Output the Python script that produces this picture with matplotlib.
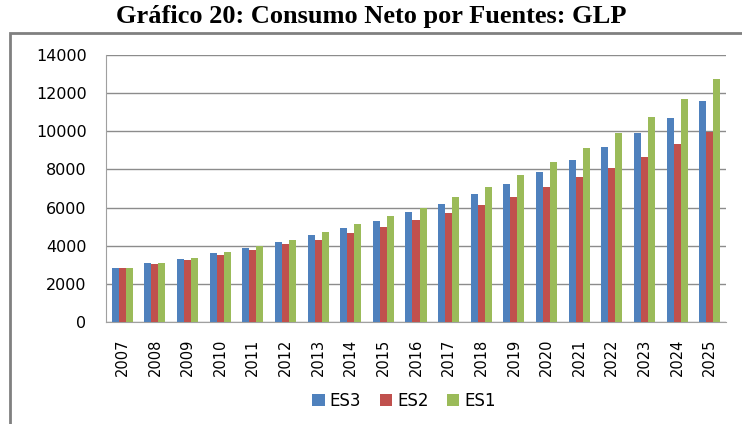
import numpy as np
import matplotlib
matplotlib.use('Agg')
from matplotlib import pyplot as plt
from matplotlib.patches import Rectangle

anios = [str(a) for a in range(2007, 2026)]
es3 = [2840, 3090, 3300, 3600, 3890, 4190, 4560, 4950, 5280, 5750,
       6210, 6720, 7230, 7860, 8490, 9170, 9930, 10680, 11580]
es2 = [2840, 3040, 3260, 3510, 3770, 4070, 4320, 4650, 4980, 5370,
       5720, 6140, 6560, 7070, 7580, 8090, 8670, 9350, 9960]
es1 = [2840, 3090, 3350, 3650, 4000, 4320, 4700, 5120, 5540, 6000,
       6560, 7100, 7700, 8400, 9140, 9910, 10770, 11670, 12720]
series = [('ES3', es3, '#4F81BD'), ('ES2', es2, '#C0504D'), ('ES1', es1, '#9BBB59')]

fig = plt.figure(figsize=(7.42, 4.24), dpi=100)
ax = fig.add_axes([106/742, 1-322/424, 620/742, 267/424])

# marco del grafico
fig.patches.append(Rectangle((10/742, -0.01), 1.0, 1-33/424+0.01, transform=fig.transFigure,
                             fill=False, edgecolor='#808080', linewidth=2))

x = np.arange(len(anios))
w = 0.215
for i, (nombre, vals, col) in enumerate(series):
    ax.bar(x + (i-1)*w, vals, w, color=col, label=nombre, zorder=3)

ax.set_xlim(-0.5, len(anios)-0.5)
ax.set_ylim(0, 14000)
ax.set_yticks(range(0, 14001, 2000))
ax.set_xticks(x)
ax.set_xticklabels(anios, rotation=90, fontsize=10.5)
for t in ax.get_yticklabels():
    t.set_fontsize(11.5)
ax.yaxis.grid(True, color='#8c8c8c', linewidth=1, zorder=0)
ax.tick_params(axis='x', length=0, pad=12)
ax.tick_params(axis='y', length=0, pad=14)
for s in ['top', 'right']:
    ax.spines[s].set_visible(False)
ax.spines['left'].set_color('#a0a0a0')
ax.spines['bottom'].set_color('#a0a0a0')

fig.text(0.5, 1-17/424, 'Gráfico 20: Consumo Neto por Fuentes: GLP', ha='center', va='center',
         fontsize=19, fontweight='bold', family='Liberation Serif')

fig.legend(loc='center', bbox_to_anchor=(404/742, 1-401/424), ncol=3, frameon=False,
           handlelength=0.75, handleheight=0.75, handletextpad=0.3, columnspacing=1.1,
           prop={'size': 12})

fig.savefig('out.png', dpi=100)
